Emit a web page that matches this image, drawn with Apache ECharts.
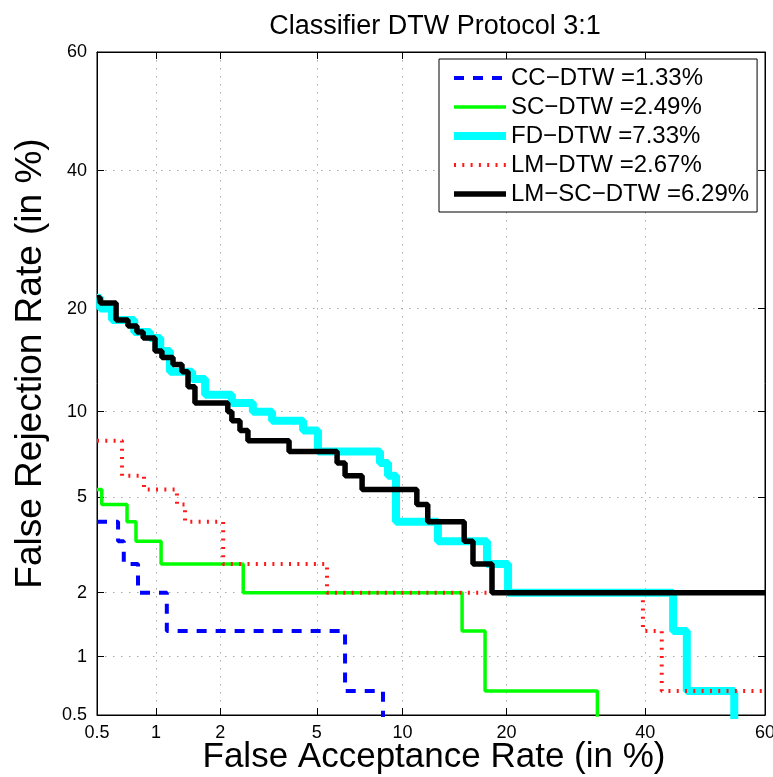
<!DOCTYPE html>
<html>
<head>
<meta charset="utf-8">
<script src="https://cdn.jsdelivr.net/npm/echarts@6/dist/echarts.min.js"></script>
<style>
  html, body { margin: 0; padding: 0; background: #fff; }
  #chart { width: 773px; height: 777px; }
</style>
</head>
<body>
<div id="chart"></div>
<script>
// tick labels (in %), same on both axes
const tickValues = [0.5, 1, 2, 5, 10, 20, 40, 60];

const seriesNames = [
  'CC\u2212DTW =1.33%',
  'SC\u2212DTW =2.49%',
  'FD\u2212DTW =7.33%',
  'LM\u2212DTW =2.67%',
  'LM\u2212SC\u2212DTW =6.29%'
];

// step vertices: false acceptance (%) / false rejection (%)
const ccFa = [0.5, 0.645, 0.645, 0.69, 0.69, 0.815, 0.815, 1.13, 1.13, 6.36, 6.36, 8.62, 8.62];
const ccFr = [4, 4, 3.33, 3.33, 2.67, 2.67, 2, 2, 1.33, 1.33, 0.67, 0.67, 0.4];

const scFa = [0.5, 0.53, 0.53, 0.717, 0.717, 0.796, 0.796, 1.06, 1.06, 2.52, 2.52, 15.16, 15.16, 17.56, 17.56, 32.4, 32.4];
const scFr = [5.33, 5.33, 4.67, 4.67, 4, 4, 3.33, 3.33, 2.67, 2.67, 2, 2, 1.33, 1.33, 0.67, 0.67, 0.4];

const fdFa = [0.5, 0.52, 0.52, 0.6, 0.6, 0.78, 0.78, 0.935, 0.935, 1.05, 1.05, 1.17, 1.17, 1.49, 1.49, 1.71, 1.71,
  2.25, 2.25, 2.77, 2.77, 3.33, 3.33, 4.43, 4.43, 5.05, 5.05, 8.42, 8.42, 8.96, 8.96, 9.52, 9.52,
  12.88, 12.88, 17.77, 17.77, 20.19, 20.19, 44.6, 44.6, 46.9, 46.9, 54.9, 54.9];
const fdFr = [21.33, 21.33, 20, 20, 18.67, 18.67, 17.33, 17.33, 16.67, 16.67, 15.33, 15.33, 13.33, 13.33, 12.67, 12.67, 11.33,
  11.33, 10.67, 10.67, 10, 10, 9.33, 9.33, 8.67, 8.67, 7.33, 7.33, 6.67, 6.67, 6, 6, 4,
  4, 3.33, 3.33, 2.67, 2.67, 2, 2, 1.33, 1.33, 0.67, 0.67, 0.4];

const lmFa = [0.5, 0.676, 0.676, 0.873, 0.873, 1.264, 1.264, 1.38, 1.38, 2.06, 2.06, 5.46, 5.46, 39.6, 39.6, 42.7, 42.7, 60];
const lmFr = [8, 8, 6, 6, 5.33, 5.33, 4.67, 4.67, 4, 4, 2.67, 2.67, 2, 2, 1.33, 1.33, 0.67, 0.67];

const lmscFa = [0.5, 0.52, 0.52, 0.63, 0.63, 0.725, 0.725, 0.805, 0.805, 0.865, 0.865, 0.99, 0.99, 1.07, 1.07,
  1.21, 1.21, 1.335, 1.335, 1.425, 1.425, 1.535, 1.535, 2.16, 2.16, 2.25, 2.25, 2.44, 2.44, 2.64, 2.64,
  3.9, 3.9, 5.95, 5.95, 6.36, 6.36, 7.31, 7.31, 11.1, 11.1, 12.0, 12.0, 15.37, 15.37, 16.27, 16.27, 18.33, 18.33, 60];
const lmscFr = [21.33, 21.33, 20.67, 20.67, 18.67, 18.67, 18, 18, 17.33, 17.33, 16.67, 16.67, 15.33, 15.33, 14.67,
  14.67, 14, 14, 13.33, 13.33, 12, 12, 10.67, 10.67, 10, 10, 9.33, 9.33, 8.67, 8.67, 8,
  8, 7.33, 7.33, 6.67, 6.67, 6, 6, 5.33, 5.33, 4.67, 4.67, 4, 4, 3.33, 3.33, 2.67, 2.67, 2, 2];

// inverse normal cdf (Acklam), used for the DET (normal deviate) scale
function probit(p) {
  const a = [-3.969683028665376e+01, 2.209460984245205e+02, -2.759285104469687e+02, 1.383577518672690e+02, -3.066479806614716e+01, 2.506628277459239e+00];
  const b = [-5.447609879822406e+01, 1.615858368580409e+02, -1.556989798598866e+02, 6.680131188771972e+01, -1.328068155288572e+01];
  const c = [-7.784894002430293e-03, -3.223964580411365e-01, -2.400758277161838e+00, -2.549732539343734e+00, 4.374664141464968e+00, 2.938163982698783e+00];
  const d = [7.784695709041462e-03, 3.224671290700398e-01, 2.445134137142996e+00, 3.754408661907416e+00];
  const pl = 0.02425;
  let q, r;
  if (p < pl) {
    q = Math.sqrt(-2 * Math.log(p));
    return (((((c[0]*q+c[1])*q+c[2])*q+c[3])*q+c[4])*q+c[5]) / ((((d[0]*q+d[1])*q+d[2])*q+d[3])*q+1);
  }
  if (p > 1 - pl) {
    q = Math.sqrt(-2 * Math.log(1 - p));
    return -(((((c[0]*q+c[1])*q+c[2])*q+c[3])*q+c[4])*q+c[5]) / ((((d[0]*q+d[1])*q+d[2])*q+d[3])*q+1);
  }
  q = p - 0.5; r = q * q;
  return (((((a[0]*r+a[1])*r+a[2])*r+a[3])*r+a[4])*r+a[5])*q / (((((b[0]*r+b[1])*r+b[2])*r+b[3])*r+b[4])*r+1);
}
const P = v => probit(v / 100);

const tickPos = tickValues.map(P);
function tickLabel(v) {
  let best = 0;
  tickPos.forEach((t, i) => { if (Math.abs(t - v) < Math.abs(tickPos[best] - v)) best = i; });
  return String(tickValues[best]);
}
function pts(fa, fr) {
  return fa.map((x, i) => [P(x), P(fr[i])]);
}

const font = 'Liberation Sans, Arial, sans-serif';
const chart = echarts.init(document.getElementById('chart'));

function axis(pos, isX, main) {
  return {
    type: 'value',
    position: pos,
    min: P(0.5),
    max: P(60),
    name: main ? (isX ? 'False Acceptance Rate (in %)' : 'False Rejection Rate (in %)') : '',
    nameLocation: 'middle',
    nameGap: isX ? 25 : 48,
    nameMoveOverlap: false,
    nameTextStyle: {
      fontSize: isX ? 35 : 37, color: '#000', fontFamily: font,
      padding: isX ? [0, 0, 0, 6] : [0, 0, 0, 40]
    },
    axisLine: { show: true, onZero: false, lineStyle: { color: '#000', width: 1 } },
    axisTick: { show: true, inside: true, length: 7, customValues: tickPos, lineStyle: { color: '#000' } },
    axisLabel: {
      show: main, customValues: tickPos, formatter: tickLabel,
      color: '#000', fontSize: 18, fontFamily: font, margin: isX ? 9 : 10
    },
    splitLine: {
      show: main,
      lineStyle: { color: '#a8a8a8', width: 1, type: [1.5, 6.5] }
    }
  };
}

const option = {
  animation: false,
  backgroundColor: '#fff',
  title: {
    text: 'Classifier DTW Protocol 3:1',
    left: 430,
    top: 8,
    textAlign: 'center',
    textStyle: { fontSize: 27, fontWeight: 'normal', color: '#000', fontFamily: font }
  },
  grid: {
    left: 97, right: 8, top: 52, bottom: 62,
    outerBoundsMode: 'none',
    show: true, borderColor: '#000', borderWidth: 1
  },
  legend: {
    data: seriesNames,
    orient: 'vertical',
    left: 439,
    top: 59,
    padding: [7, 8, 6, 11],
    itemWidth: 52,
    itemHeight: 14,
    itemGap: 5,
    backgroundColor: '#fff',
    borderColor: '#000',
    borderWidth: 1,
    borderRadius: 0,
    itemStyle: { opacity: 0 },
    lineStyle: { width: 'inherit', type: 'inherit' },
    textStyle: { fontSize: 24, color: '#000', fontFamily: font, lineHeight: 22 }
  },
  xAxis: [axis('bottom', true, true), axis('top', true, false)],
  yAxis: [axis('left', false, true), axis('right', false, false)],
  series: [
    {
      name: seriesNames[0], type: 'line', symbol: 'none',
      data: pts(ccFa, ccFr),
      lineStyle: { color: '#0000ff', width: 4, type: [10, 9] },
      itemStyle: { color: '#0000ff' }
    },
    {
      name: seriesNames[1], type: 'line', symbol: 'none',
      data: pts(scFa, scFr),
      lineStyle: { color: '#00ff00', width: 3.5 },
      itemStyle: { color: '#00ff00' }
    },
    {
      name: seriesNames[2], type: 'line', symbol: 'none',
      data: pts(fdFa, fdFr),
      lineStyle: { color: '#00ffff', width: 8 },
      itemStyle: { color: '#00ffff' }
    },
    {
      name: seriesNames[3], type: 'line', symbol: 'none',
      data: pts(lmFa, lmFr),
      lineStyle: { color: '#ff1a1a', width: 4, type: [2, 6.3] },
      itemStyle: { color: '#ff1a1a' }
    },
    {
      name: seriesNames[4], type: 'line', symbol: 'none',
      data: pts(lmscFa, lmscFr),
      lineStyle: { color: '#000000', width: 5.5 },
      itemStyle: { color: '#000000' }
    }
  ]
};
chart.setOption(option);
</script>
</body>
</html>
